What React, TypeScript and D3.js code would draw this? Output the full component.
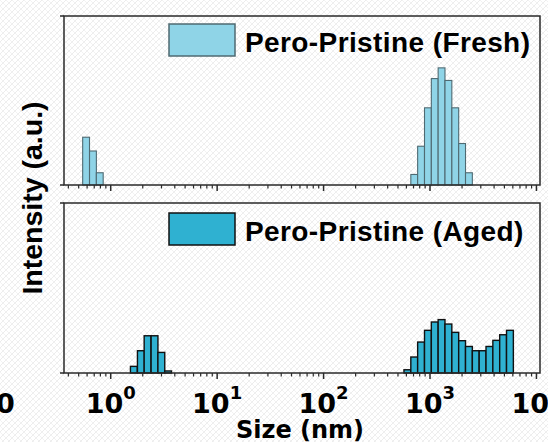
import React from "react";
import * as d3 from "d3";

// ---- data (DLS size distribution, intensity in a.u.) ----
const freshSizes = [0.587, 0.681, 0.789, 711, 824, 956, 1108, 1284, 1489, 1727, 2002, 2321];
const freshIntensity = [28.1, 20.0, 7.2, 6.2, 22.8, 45.4, 62.6, 68.9, 61.5, 45.4, 24.4, 7.2];

const agedSizes = [1.65, 1.92, 2.22, 2.58, 2.99, 3.46, 613, 711, 824, 956, 1108, 1284, 1489, 1727, 2002, 2321, 2691, 3120, 3617, 4194, 4862, 5637];
const agedIntensity = [3.9, 13.1, 21.9, 21.9, 12.1, 1.2, 1.9, 9.4, 18.2, 25.1, 30.0, 31.4, 28.8, 23.9, 19.0, 15.6, 13.1, 13.1, 15.6, 19.2, 22.5, 25.1];

const majorTicks = [1, 10, 100, 1000, 10000];
const majorExponents = ["0", "1", "2", "3", "4"];
const seriesLabels = ["Pero-Pristine (Fresh)", "Pero-Pristine (Aged)"];
const xTitle = "Size (nm)";
const yTitle = "Intensity (a.u.)";

// ---- layout ----
const W = 548;
const H = 442;
const L = 64;
const R = 540;
const BIN_DECADES = 0.0642;

const panels = [
  { top: 16, bottom: 185, sizes: freshSizes, values: freshIntensity, fill: "#8fd4e7", stroke: "#4f6a72", sw: 1.1, label: seriesLabels[0], legY: 24 },
  { top: 203, bottom: 373, sizes: agedSizes, values: agedIntensity, fill: "#2fb1d1", stroke: "#111", sw: 1.4, label: seriesLabels[1], legY: 213 },
];

const tickFont = "'DejaVu Sans', Verdana, sans-serif";
const labelFont = "'Liberation Sans', Arial, sans-serif";

export default function App() {
  const x = d3.scaleLog().domain([0.364, 10800]).range([L, R]);
  const half = Math.pow(10, BIN_DECADES / 2);

  const minorTicks: number[] = [];
  for (let e = -1; e <= 4; e++) {
    for (let m = 2; m <= 9; m++) {
      const v = m * Math.pow(10, e);
      if (v >= x.domain()[0] && v <= x.domain()[1]) minorTicks.push(v);
    }
  }

  return (
    <svg width={W} height={H} style={{ position: "absolute", left: 0, top: 0, background: "#fff" }}>
      <defs>
        <pattern id="hatch" width="6" height="6" patternUnits="userSpaceOnUse">
          <path d="M0,6 L6,0 M-1,1 L1,-1 M5,7 L7,5" stroke="#ececec" strokeWidth="1" />
          <path d="M0,0 L6,6" stroke="#f2f2f2" strokeWidth="1" />
        </pattern>
      </defs>
      <rect x={0} y={0} width={W} height={H} fill="url(#hatch)" />
      {panels.map((p, i) => {
        const y = d3.scaleLinear().domain([0, 100]).range([p.bottom, p.top + (p.bottom - p.top) - 170]);
        return (
          <g key={i}>
            {p.sizes.map((s, j) => {
              const x0 = x(s / half);
              const x1 = x(s * half);
              const yv = y(p.values[j]);
              return (
                <rect key={j} x={x0} y={yv} width={x1 - x0} height={p.bottom - yv}
                  fill={p.fill} stroke={p.stroke} strokeWidth={p.sw} />
              );
            })}
            {/* frame */}
            <rect x={L} y={p.top} width={R - L} height={p.bottom - p.top} fill="none" stroke="#2a2a2a" strokeWidth={1.5} />
            {/* y end ticks */}
            <line x1={L - 4} x2={L} y1={p.top} y2={p.top} stroke="#2a2a2a" strokeWidth={1.5} />
            <line x1={L - 4} x2={L} y1={p.bottom} y2={p.bottom} stroke="#2a2a2a" strokeWidth={1.5} />
            {/* x ticks */}
            {majorTicks.map((t) => (
              <line key={"M" + t} x1={x(t)} x2={x(t)} y1={p.bottom} y2={p.bottom + 6} stroke="#2a2a2a" strokeWidth={1.5} />
            ))}
            {minorTicks.map((t) => (
              <line key={"m" + t} x1={x(t)} x2={x(t)} y1={p.bottom} y2={p.bottom + 3.5} stroke="#2a2a2a" strokeWidth={1.2} />
            ))}
            {/* legend */}
            <rect x={169} y={p.legY} width={66} height={32} fill={p.fill} stroke={p.stroke} strokeWidth={1.5} />
            <text x={245} y={p.legY + 27.5} fontFamily={labelFont} fontWeight="bold" fontSize={28} letterSpacing={0.4} fill="#000">
              {p.label}
            </text>
          </g>
        );
      })}
      {/* x tick labels */}
      {majorTicks.map((t, i) => (
        <text key={"l" + t} x={x(t)} y={413} textAnchor="middle" fontFamily={tickFont} fontWeight="bold" fontSize={27} fill="#000">
          10<tspan fontSize={18} dy={-14}>{majorExponents[i]}</tspan>
        </text>
      ))}
      <text x={-4} y={413} fontFamily={tickFont} fontWeight="bold" fontSize={27} fill="#000">0</text>
      {/* axis titles */}
      <text x={300} y={438} textAnchor="middle" fontFamily={tickFont} fontWeight="bold" fontSize={24} fill="#000">{xTitle}</text>
      <text transform="translate(41.5,198) rotate(-90)" textAnchor="middle" fontFamily={labelFont} fontWeight="bold" fontSize={28.5} fill="#000">{yTitle}</text>
    </svg>
  );
}
